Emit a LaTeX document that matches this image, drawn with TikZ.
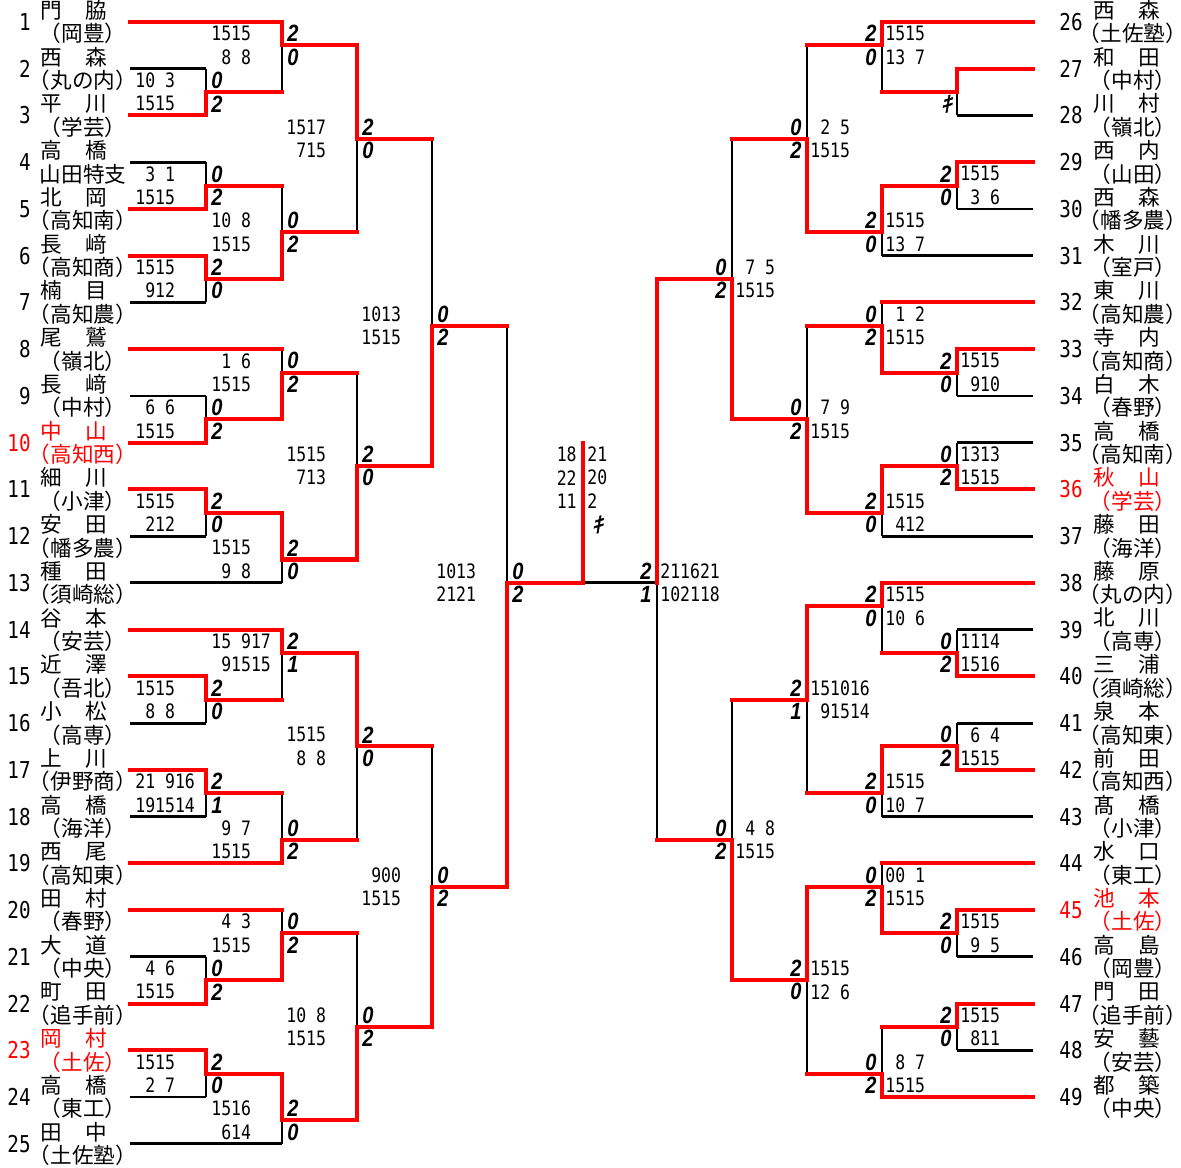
\documentclass[tikz,border=0pt]{standalone}
\usepackage{fontspec}
\usepackage{xcolor}
\usepackage{tikz}

\newfontfamily\jpfont{Noto Sans CJK JP}
\newfontfamily\jphalf[RawFeature=+halt]{Noto Sans CJK JP}
\newfontfamily\scorefont[FakeStretch=0.83]{DejaVu Sans Mono}
\newfontfamily\gamefont[FakeStretch=0.85]{Liberation Sans}
\newfontfamily\kifont[FakeSlant=0.25,FakeBold=2]{Noto Sans CJK JP}
\newcommand{\sk}{\phantom{0}}

\begin{document}
\begin{tikzpicture}[x=0.02cm,y=-0.4675cm,
	won/.style={red,line width=2.3pt,line cap=rect},
	lost/.style={black,line width=1.6pt},
	score/.style={inner sep=0pt,font=\scorefont\fontsize{11.3}{12}\selectfont},
	game/.style={inner sep=0pt,font=\gamefont\bfseries\itshape\fontsize{13.4}{14}\selectfont},
	seedno/.style={inner sep=0pt,font=\scorefont\fontsize{13.2}{14}\selectfont},
	surname/.style={inner sep=0pt,anchor=west,font=\jpfont\fontsize{12.3}{14}\selectfont},
	school/.style={inner sep=0pt,font=\jphalf\fontsize{12.3}{14}\selectfont},
	kiken/.style={inner sep=0pt,font=\kifont\fontsize{12.5}{13}\selectfont}]
	\useasboundingbox (0,-0.9412) rectangle (1181,49.0267);
	
	% matches: column / upper / out / lower / winner / next column / scores / games
	\def\leftmatches{206/2/3/4/4/282/10\sk3/1515/0/2, 206/6/7/8/8/282/\sk3\sk1/1515/0/2,
		206/10/11/12/10/282/1515/\sk912/2/0, 206/16/17/18/18/282/\sk6\sk6/1515/0/2,
		206/20/21/22/20/282/1515/\sk212/2/0, 206/28/29/30/28/282/1515/\sk8\sk8/2/0,
		206/32/33/34/32/282/21\sk916/191514/2/1, 206/40/41/42/42/282/\sk4\sk6/1515/0/2,
		206/44/45/46/44/282/1515/\sk2\sk7/2/0,
		282/0/1/3/0/357/1515/\sk8\sk8/2/0, 282/7/9/11/11/357/10\sk8/1515/0/2,
		282/14/15/17/17/357/\sk1\sk6/1515/0/2, 282/21/23/24/21/357/1515/\sk9\sk8/2/0,
		282/26/27/29/26/357/15\sk917/\sk91515/2/1, 282/33/35/36/36/357/\sk9\sk7/1515/0/2,
		282/38/39/41/41/357/\sk4\sk3/1515/0/2, 282/45/47/48/45/357/1516/\sk614/2/0,
		357/1/5/9/1/432/1517/\sk715/2/0, 357/15/19/23/23/432/1515/\sk713/2/0,
		357/27/31/35/27/432/1515/\sk8\sk8/2/0, 357/39/43/47/47/432/10\sk8/1515/0/2,
		432/5/13/19/19/507/1013/1515/0/2, 432/31/37/43/43/507/\sk900/1515/0/2,
		507/13/24/37/37/583/1013/2121/0/2}
	\def\rightmatches{957/6/7/8/6/882/1515/\sk3\sk6/2/0, 957/14/15/16/14/882/1515/\sk910/2/0,
		957/18/19/20/20/882/1313/1515/0/2, 957/26/27/28/28/882/1114/1516/0/2,
		957/30/31/32/32/882/\sk6\sk4/1515/0/2, 957/38/39/40/38/882/1515/\sk9\sk5/2/0,
		957/42/43/44/42/882/1515/\sk811/2/0,
		882/0/1/3/0/807/1515/13\sk7/2/0, 882/7/9/10/7/807/1515/13\sk7/2/0,
		882/12/13/15/15/807/\sk1\sk2/1515/0/2, 882/19/21/22/19/807/1515/\sk412/2/0,
		882/24/25/27/24/807/1515/10\sk6/2/0, 882/31/33/34/31/807/1515/10\sk7/2/0,
		882/36/37/39/39/807/00\sk1/1515/0/2, 882/43/45/46/46/807/\sk8\sk7/1515/0/2,
		807/1/5/9/9/732/\sk2\sk5/1515/0/2, 807/13/17/21/21/732/\sk7\sk9/1515/0/2,
		807/25/29/33/25/732/151016/\sk91514/2/1, 807/37/41/45/37/732/1515/12\sk6/2/0,
		732/5/11/17/17/657/\sk7\sk5/1515/0/2, 732/29/35/41/41/657/\sk4\sk8/1515/0/2,
		657/11/24/35/11/657/211621/102118/2/1}
	
	% black lines first
	\foreach \k/\xe in {2/206,6/206,12/206,16/206,22/206,24/282,30/206,34/206,40/206,46/206,48/282}
		\draw[lost] (130,\k) -- (\xe,\k);
	\foreach \k/\xe in {4/957,8/957,10/882,16/957,18/957,22/882,26/957,30/957,34/882,40/957,44/957}
		\draw[lost] (1033,\k) -- (\xe,\k);
	\foreach \vx/\kt/\ko/\kb/\kw/\nx/\su/\sl/\gu/\gl in \leftmatches
		\draw[lost] (\vx,\kt) -- (\vx,\kb);
	\foreach \vx/\kt/\ko/\kb/\kw/\nx/\su/\sl/\gu/\gl in \rightmatches
		\draw[lost] (\vx,\kt) -- (\vx,\kb);
	\draw[lost] (957,2) -- (957,4);
	\draw[lost] (583,24) -- (657,24);
	
	% winners in red
	\foreach \k/\xe in {0/282,4/206,8/206,10/206,14/282,18/206,20/206,26/282,28/206,32/206,36/282,38/282,42/206,44/206}
		\draw[won] (130,\k) -- (\xe,\k);
	\foreach \k/\xe in {0/882,6/957,12/882,14/957,20/957,24/882,28/957,32/957,36/882,38/957,42/957,46/882}
		\draw[won] (1033,\k) -- (\xe,\k);
	\draw[won] (1033,2) -- (957,2) -- (957,3) -- (882,3);
	\foreach \vx/\kt/\ko/\kb/\kw/\nx/\su/\sl/\gu/\gl in \leftmatches {
		\draw[won] (\vx,\kw) -- (\vx,\ko) -- (\nx,\ko);
		\node[score,anchor=west] (su\vx-\ko) at (\vx-71,\ko-0.5) {\su};
		\node[score,anchor=west] (sl\vx-\ko) at (\vx-71,\ko+0.5) {\sl};
		\node[game] (gu\vx-\ko) at (\vx+11,\ko-0.5) {\gu};
		\node[game] (gl\vx-\ko) at (\vx+11,\ko+0.5) {\gl};
	}
	\foreach \vx/\kt/\ko/\kb/\kw/\nx/\su/\sl/\gu/\gl in \rightmatches {
		\draw[won] (\vx,\kw) -- (\vx,\ko) -- (\nx,\ko);
		\node[score,anchor=west] (su\vx-\ko) at (\vx+3,\ko-0.5) {\su};
		\node[score,anchor=west] (sl\vx-\ko) at (\vx+3,\ko+0.5) {\sl};
		\node[game] (gu\vx-\ko) at (\vx-11,\ko-0.5) {\gu};
		\node[game] (gl\vx-\ko) at (\vx-11,\ko+0.5) {\gl};
	}
	\node[kiken] (ki28) at (946,3.5) {ｷ};
	
	% final
	\draw[won] (583,24) -- (583,18);
	\node[score,anchor=east] (fa) at (577,18.5) {18};
	\node[score,anchor=east] (fb) at (577,19.5) {22};
	\node[score,anchor=east] (fc) at (577,20.5) {11};
	\node[score,anchor=west] (fd) at (587,18.5) {21};
	\node[score,anchor=west] (fe) at (587,19.5) {20};
	\node[score,anchor=west] (ff) at (587,20.5) {2};
	\node[kiken] (fk) at (597,21.5) {ｷ};
	
	% left players
	\foreach \k/\no/\fa/\fb/\sch/\col in {0/1/門/脇/（岡豊）/black, 2/2/西/森/（丸の内）/black,
		4/3/平/川/（学芸）/black, 6/4/高/橋/山田特支/black, 8/5/北/岡/（高知南）/black,
		10/6/長/﨑/（高知商）/black, 12/7/楠/目/（高知農）/black, 14/8/尾/鷲/（嶺北）/black,
		16/9/長/﨑/（中村）/black, 18/10/中/山/（高知西）/red, 20/11/細/川/（小津）/black,
		22/12/安/田/（幡多農）/black, 24/13/種/田/（須崎総）/black, 26/14/谷/本/（安芸）/black,
		28/15/近/澤/（吾北）/black, 30/16/小/松/（高専）/black, 32/17/上/川/（伊野商）/black,
		34/18/高/橋/（海洋）/black, 36/19/西/尾/（高知東）/black, 38/20/田/村/（春野）/black,
		40/21/大/道/（中央）/black, 42/22/町/田/（追手前）/black, 44/23/岡/村/（土佐）/red,
		46/24/高/橋/（東工）/black, 48/25/田/中/（土佐塾）/black} {
		\node[seedno,anchor=east,text=\col] (no\no) at (31,\k) {\no};
		\node[surname,text=\col] (nm\no) at (40,\k-0.5) {\fa\hspace{1.1em}\fb};
		\node[school,text=\col] (sc\no) at (83,\k+0.5) {\sch};
	}
	
	% right players
	\foreach \k/\no/\fa/\fb/\sch/\col in {0/26/西/森/（土佐塾）/black, 2/27/和/田/（中村）/black,
		4/28/川/村/（嶺北）/black, 6/29/西/内/（山田）/black, 8/30/西/森/（幡多農）/black,
		10/31/木/川/（室戸）/black, 12/32/東/川/（高知農）/black, 14/33/寺/内/（高知商）/black,
		16/34/白/木/（春野）/black, 18/35/高/橋/（高知南）/black, 20/36/秋/山/（学芸）/red,
		22/37/藤/田/（海洋）/black, 24/38/藤/原/（丸の内）/black, 26/39/北/川/（高専）/black,
		28/40/三/浦/（須崎総）/black, 30/41/泉/本/（高知東）/black, 32/42/前/田/（高知西）/black,
		34/43/髙/橋/（小津）/black, 36/44/水/口/（東工）/black, 38/45/池/本/（土佐）/red,
		40/46/高/島/（岡豊）/black, 42/47/門/田/（追手前）/black, 44/48/安/藝/（安芸）/black,
		46/49/都/築/（中央）/black} {
		\node[seedno,text=\col] (no\no) at (1071,\k) {\no};
		\node[surname,text=\col] (nm\no) at (1093,\k-0.5) {\fa\hspace{1.1em}\fb};
		\node[school,text=\col] (sc\no) at (1133,\k+0.5) {\sch};
	}
\end{tikzpicture}
\end{document}
